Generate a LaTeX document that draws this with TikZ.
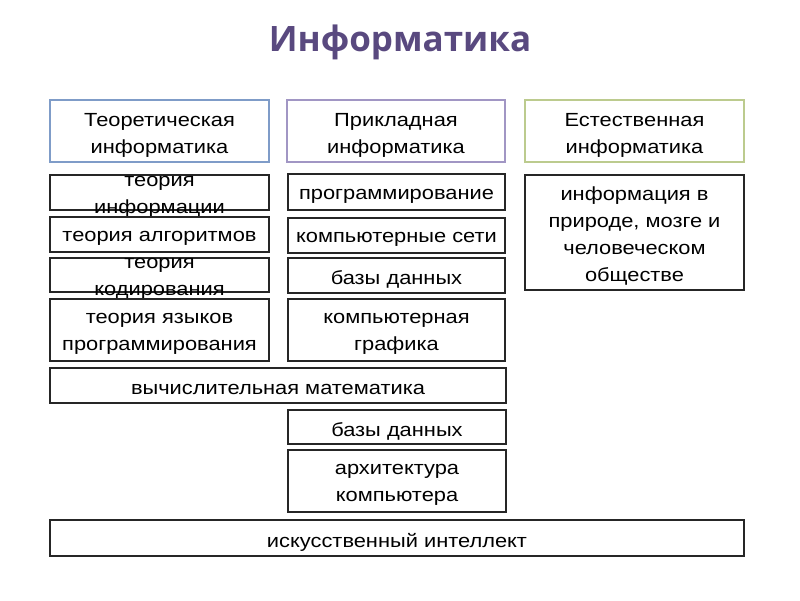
\documentclass[tikz,border=0pt]{standalone}
\usepackage{fontspec}
\setmainfont{Liberation Sans}[FakeStretch=1.15]
\newfontfamily\titlefont{Open Sans}
\usetikzlibrary{positioning}
\definecolor{titlepurple}{HTML}{59497F}
\definecolor{headblue}{HTML}{7F9CC8}
\definecolor{headviolet}{HTML}{A196C4}
\definecolor{headgreen}{HTML}{BCCB8E}

\begin{document}
\begin{tikzpicture}[x=1pt,y=-1pt,
  box/.style={draw=black!85,line width=1.6pt,inner sep=0pt},
  head/.style={box,line width=1.3pt,minimum width=219,minimum height=62},
  txt/.style={inner sep=0pt,align=center,font=\fontsize{19}{27}\selectfont,yshift=-4}]
  \useasboundingbox (0,0) rectangle (800,600);
  \node[font=\titlefont\bfseries\fontsize{35}{40}\selectfont,text=titlepurple] (title) at (400,42) {Информатика};

  \node[head,draw=headblue] (th) at (159.5,131) {};
  \node[txt] (thl) at (th) {Теоретическая\\информатика};
  \node[head,draw=headviolet,minimum width=218] (ph) at (396,131) {};
  \node[txt] (phl) at (ph) {Прикладная\\информатика};
  \node[head,draw=headgreen] (eh) at (634.5,131) {};
  \node[txt] (ehl) at (eh) {Естественная\\информатика};

  \node[box,minimum width=219,minimum height=35] (t1) at (159.5,192.5) {};
  \node[txt] (t1l) at (t1) {теория\\информации};
  \node[box,minimum width=219,minimum height=35] (t2) at (159.5,234.5) {};
  \node[txt] (t2l) at (t2) {теория алгоритмов};
  \node[box,minimum width=219,minimum height=34] (t3) at (159.5,275) {};
  \node[txt] (t3l) at (t3) {теория\\кодирования};
  \node[box,minimum width=219,minimum height=62] (t4) at (159.5,330) {};
  \node[txt] (t4l) at (t4) {теория языков\\программирования};

  \node[box,minimum width=217,minimum height=36] (p1) at (396.5,192) {};
  \node[txt] (p1l) at (p1) {программирование};
  \node[box,minimum width=217,minimum height=35] (p2) at (396.5,235.5) {};
  \node[txt] (p2l) at (p2) {компьютерные сети};
  \node[box,minimum width=217,minimum height=35] (p3) at (396.5,275.5) {};
  \node[txt] (p3l) at (p3) {базы данных};
  \node[box,minimum width=217,minimum height=62] (p4) at (396.5,330) {};
  \node[txt] (p4l) at (p4) {компьютерная\\графика};

  \node[box,minimum width=219,minimum height=115] (e1) at (634.5,232.5) {};
  \node[txt] (e1l) at (e1) {информация в\\природе, мозге и\\человеческом\\обществе};

  \node[box,minimum width=456,minimum height=35] (vm) at (278,385.5) {};
  \node[txt] (vml) at (vm) {вычислительная математика};
  \node[box,minimum width=218,minimum height=34] (db) at (397,427) {};
  \node[txt] (dbl) at (db) {базы данных};
  \node[box,minimum width=218,minimum height=62] (ar) at (397,481) {};
  \node[txt] (arl) at (ar) {архитектура\\компьютера};
  \node[box,minimum width=694,minimum height=36] (ai) at (397,538) {};
  \node[txt] (ail) at (ai) {искусственный интеллект};
\end{tikzpicture}
\end{document}
